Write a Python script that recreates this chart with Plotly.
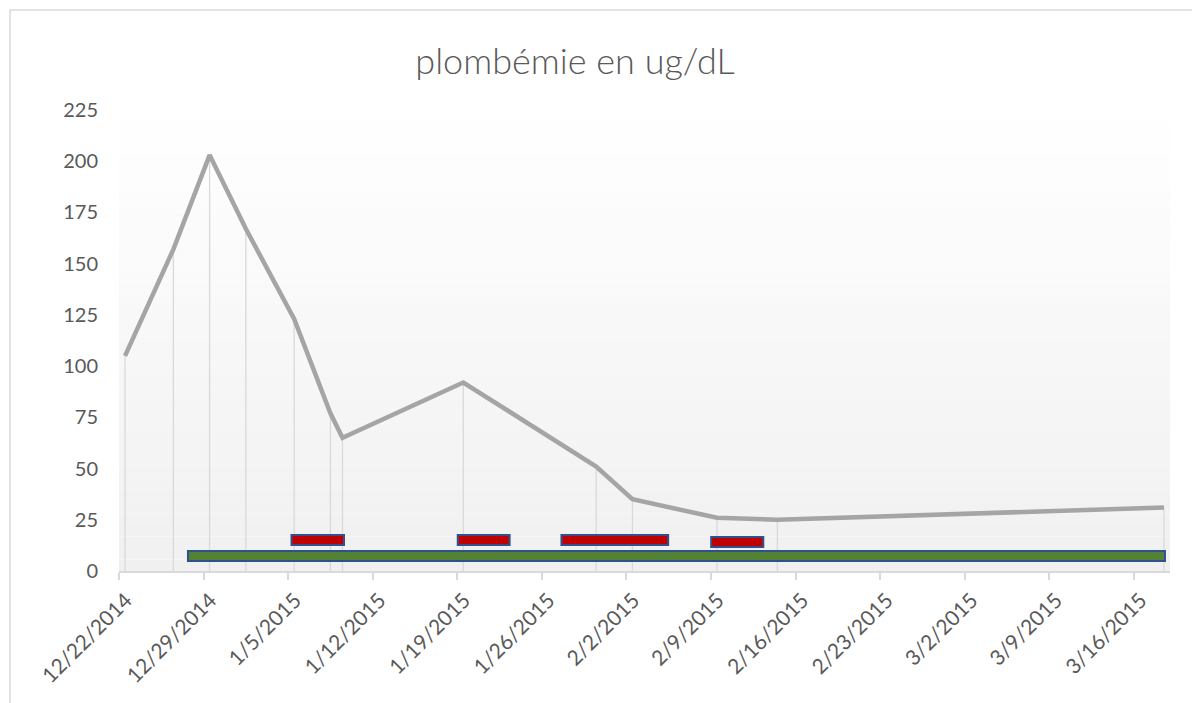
import plotly.graph_objects as go
import pandas as pd

# ---------------- data ----------------
title_text = "plombémie en ug/dL"

sample_dates = ["2014-12-22", "2014-12-26", "2014-12-29", "2015-01-01", "2015-01-05",
                "2015-01-08", "2015-01-09", "2015-01-19", "2015-01-30", "2015-02-02",
                "2015-02-09", "2015-02-14", "2015-03-18"]
lead_values = [105, 157, 203, 167, 123, 77, 65, 92, 51, 35, 26, 25, 31]

tick_labels = ["12/22/2014", "12/29/2014", "1/5/2015", "1/12/2015", "1/19/2015",
               "1/26/2015", "2/2/2015", "2/9/2015", "2/16/2015", "2/23/2015",
               "3/2/2015", "3/9/2015", "3/16/2015"]
y_ticks = [0, 25, 50, 75, 100, 125, 150, 175, 200, 225]

green_start = ["2014-12-27 17:00"]
green_end = ["2015-03-18 14:00"]
green_level = [7.3]

red_start = ["2015-01-05 06:45", "2015-01-19 01:00", "2015-01-27 15:00", "2015-02-09 00:30"]
red_end = ["2015-01-09 15:00", "2015-01-23 08:00", "2015-02-05 11:00", "2015-02-13 08:00"]
red_level = [15.1, 15.1, 15.1, 14.2]

# ---------------- styling ----------------
W, H = 1200, 703
OFF = 8  # page body margin
ML, MR, MT, MB = 119 - OFF, 38, 110 - OFF, 140
PW, PH = W - ML - MR, H - MT - MB
TXT = "#595959"
GRID = "#D9D9D9"
FONT = "Lato"

# Excel date axis places points mid-day
x_pts = pd.to_datetime(sample_dates) + pd.Timedelta(hours=12)
tick_vals = pd.to_datetime(tick_labels, format="%m/%d/%Y")

fig = go.Figure()


def hbars(starts, ends, levels, color):
    s = pd.to_datetime(starts)
    e = pd.to_datetime(ends)
    dur = [(b - a).total_seconds() * 1000 for a, b in zip(s, e)]
    return go.Bar(orientation="h", base=list(s.strftime("%Y-%m-%d %H:%M:%S")), x=dur,
                  y=levels, width=4.9,
                  marker=dict(color=color, line=dict(color="#2F528F", width=2)),
                  hoverinfo="skip", showlegend=False)


fig.add_trace(hbars(green_start, green_end, green_level, "#548235"))
fig.add_trace(hbars(red_start, red_end, red_level, "#C00000"))

fig.add_trace(go.Scatter(x=x_pts, y=lead_values, mode="lines",
                         line=dict(color="#A5A5A5", width=4.5),
                         showlegend=False))

shapes = []
N = 40
for i in range(N):
    t = (i + 0.5) / N
    c = int(round(255 - 15 * t))
    shapes.append(dict(type="rect", xref="paper", yref="paper", x0=0, x1=1,
                       y0=1 - (i + 1) / N, y1=1 - i / N, layer="below",
                       line=dict(width=0), fillcolor=f"rgb({c},{c},{c})"))
for xp, v in zip(x_pts, lead_values):
    shapes.append(dict(type="line", xref="x", yref="y", x0=xp, x1=xp, y0=0, y1=v,
                       layer="below", line=dict(color=GRID, width=1.3)))
# chart outer border (page px 10)
bx = 10 - OFF
shapes.append(dict(type="rect", xref="paper", yref="paper",
                   x0=(bx - ML) / PW, x1=(W + 20 - ML) / PW,
                   y0=-(H + 20 - (H - MB)) / PH, y1=(H - MB - bx) / PH,
                   line=dict(color=GRID, width=1.5), fillcolor="rgba(0,0,0,0)"))

fig.update_layout(
    width=W, height=H,
    margin=dict(l=ML, r=MR, t=MT, b=MB),
    paper_bgcolor="white", plot_bgcolor="rgba(0,0,0,0)",
    barmode="overlay",
    shapes=shapes,
    title=dict(text=title_text, x=(575 - OFF) / W, xanchor="center", xref="container",
               y=1 - (61 - OFF) / H, yanchor="middle", yref="container",
               font=dict(family=FONT, size=36, color=TXT, weight=300)),
    font=dict(family=FONT, color=TXT),
)

fig.update_xaxes(type="date", range=["2014-12-22", "2015-03-19"],
                 tickvals=list(tick_vals), ticktext=tick_labels, tickangle=-45,
                 tickfont=dict(family=FONT, size=21, color=TXT),
                 ticklabelshift=7,
                 showgrid=False, zeroline=False, showline=True, linecolor=GRID,
                 linewidth=1.5, ticks="outside", ticklen=7, tickcolor=GRID, tickwidth=1.5)
fig.update_yaxes(range=[0, 225], tickvals=y_ticks,
                 tickfont=dict(family=FONT, size=20, color=TXT),
                 showgrid=False, zeroline=False, showline=False, ticks="",
                 ticklabelstandoff=20)

fig.write_html("out.html")
